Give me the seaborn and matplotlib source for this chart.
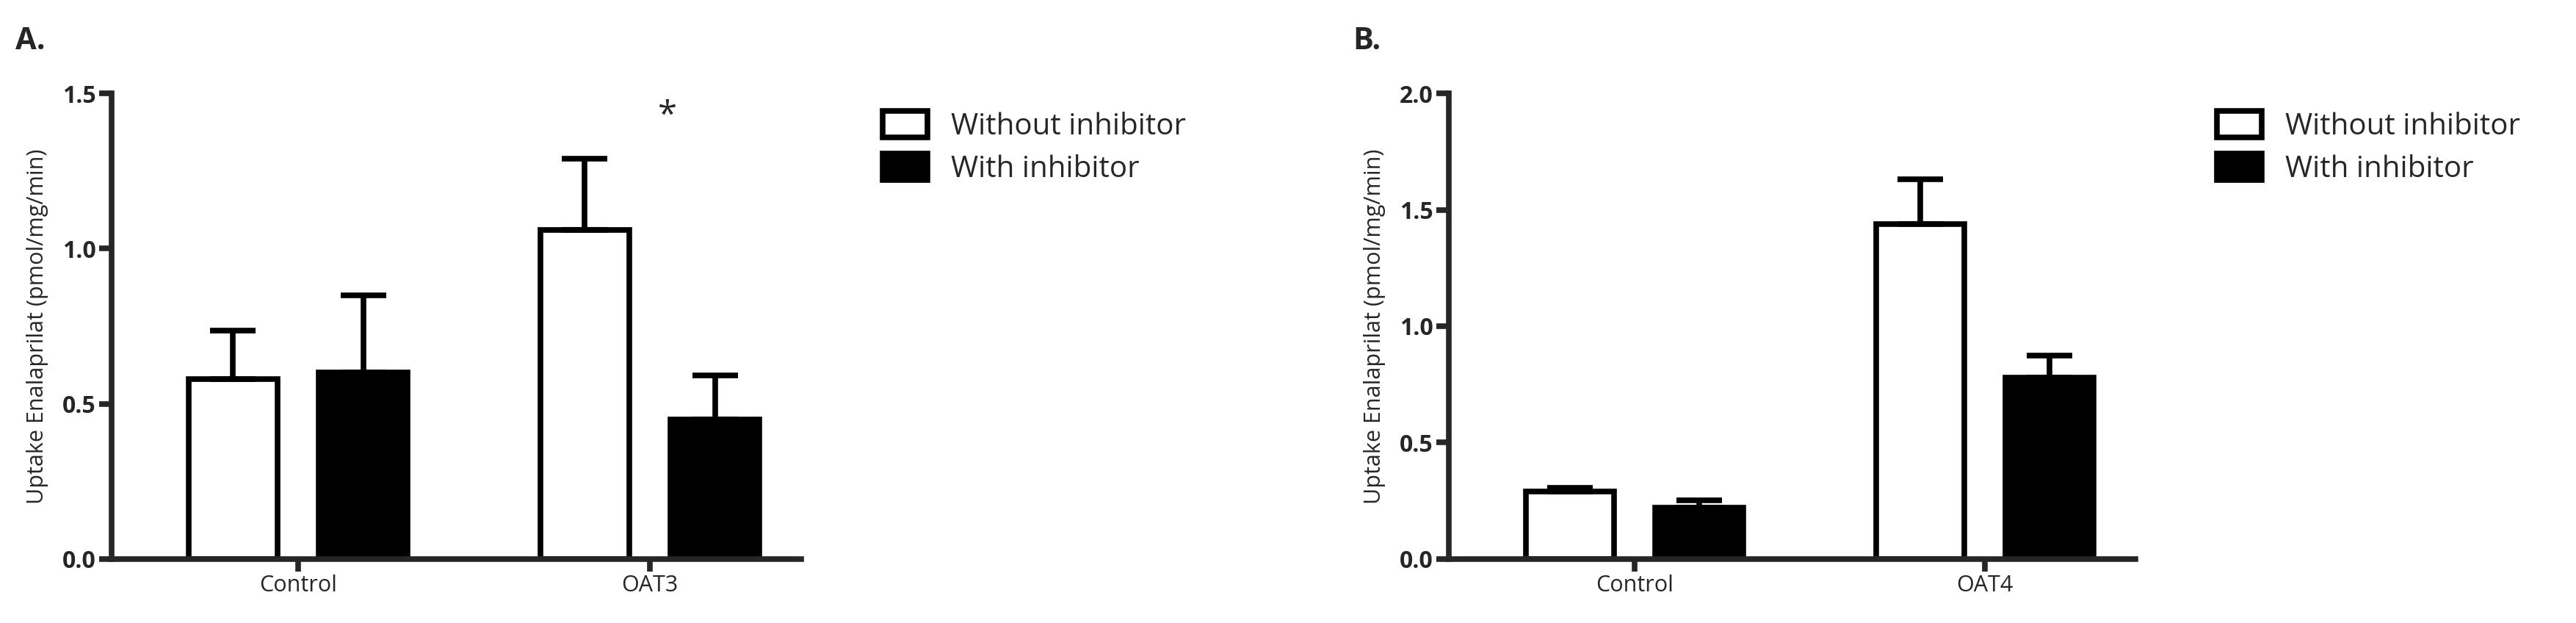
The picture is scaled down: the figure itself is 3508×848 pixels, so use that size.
import numpy as np
import pandas as pd
import matplotlib.pyplot as plt
import seaborn as sns
from matplotlib.patches import Patch

# === Data ===
groups_a = ["Control", "OAT3"]
without_a = [0.58, 1.06]
without_a_err = [0.155, 0.23]
with_a = [0.60, 0.45]
with_a_err = [0.25, 0.14]

groups_b = ["Control", "OAT4"]
without_b = [0.29, 1.44]
without_b_err = [0.015, 0.19]
with_b = [0.22, 0.78]
with_b_err = [0.03, 0.095]

conditions = ["Without inhibitor", "With inhibitor"]

sns.set_style("ticks")
plt.rcParams['font.family'] = ['Open Sans', 'DejaVu Sans']

fig = plt.figure(figsize=(35.08, 8.48), dpi=100)
ax_a = fig.add_axes([0.0434, 0.103, 0.2676, 0.747])
ax_b = fig.add_axes([0.5625, 0.103, 0.2665, 0.747])

LW = 5.5
OFFSET = 0.185


def draw_panel(ax, groups, wo, wo_err, wi, wi_err, ymax, label):
    df = pd.DataFrame({
        "group": groups * 2,
        "cond": [conditions[0]] * 2 + [conditions[1]] * 2,
        "value": wo + wi,
    })
    sns.barplot(data=df, x="group", y="value", hue="cond", ax=ax,
                palette={conditions[0]: "white", conditions[1]: "black"},
                edgecolor="black", linewidth=LW, width=0.74, gap=0.32,
                legend=False, errorbar=None)
    x = np.arange(len(groups))
    ax.errorbar(x - OFFSET, wo, yerr=[np.zeros(len(wo)), wo_err], fmt="none",
                ecolor="black", elinewidth=LW, capsize=22, capthick=LW, zorder=1)
    ax.errorbar(x + OFFSET, wi, yerr=[np.zeros(len(wi)), wi_err], fmt="none",
                ecolor="black", elinewidth=LW, capsize=22, capthick=LW, zorder=1)
    ax.set_xlim(-0.53, 1.43)
    ax.set_ylim(0, ymax)
    ax.set_yticks(np.arange(0, ymax + 0.01, 0.5))
    ax.set_yticklabels([f"{v:.1f}" for v in np.arange(0, ymax + 0.01, 0.5)],
                       fontsize=23, fontweight="bold")
    ax.tick_params(axis="x", labelsize=22, width=LW, length=12)
    ax.tick_params(axis="y", width=LW, length=12)
    ax.set_xlabel("")
    ax.set_ylabel("Uptake Enalaprilat (pmol/mg/min)", fontsize=22, labelpad=14)
    for s in ["left", "bottom"]:
        ax.spines[s].set_linewidth(LW)
    sns.despine(ax=ax)
    ax.text(-0.14, 1.08, label, transform=ax.transAxes, fontsize=30,
            fontweight="bold", va="bottom")
    handles = [Patch(facecolor="white", edgecolor="black", linewidth=LW),
               Patch(facecolor="black", edgecolor="black", linewidth=LW)]
    ax.legend(handles, conditions, loc="upper left", bbox_to_anchor=(1.08, 1.02),
              frameon=False, fontsize=29, handlelength=1.5, handleheight=1.0,
              labelspacing=0.4)


draw_panel(ax_a, groups_a, without_a, without_a_err, with_a, with_a_err, 1.5, "A.")
draw_panel(ax_b, groups_b, without_b, without_b_err, with_b, with_b_err, 2.0, "B.")

ax_a.text(1 + 0.05, 1.37, "*", fontsize=34, ha="center", va="bottom")

fig.savefig("out.png", dpi=100)
